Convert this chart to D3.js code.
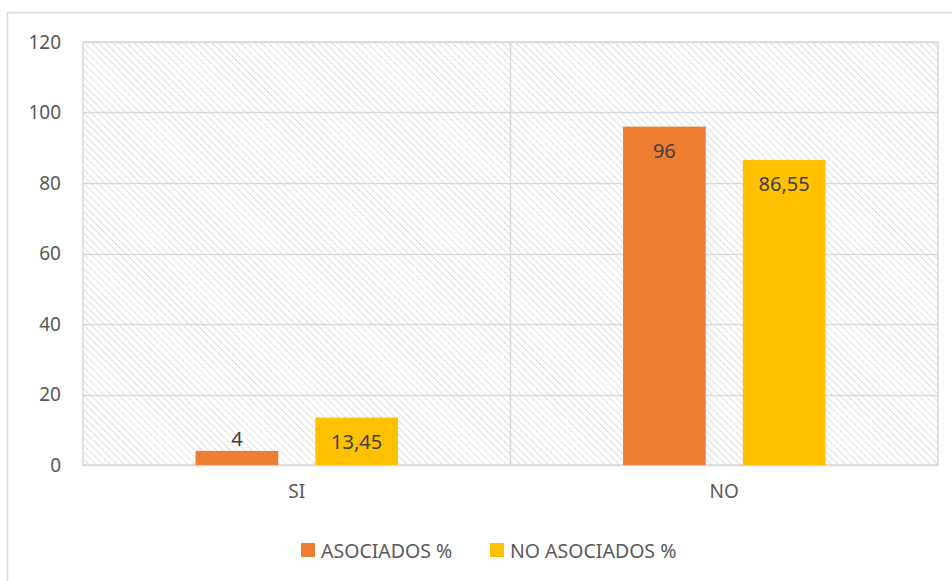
<!DOCTYPE html>
<html>
<head>
<meta charset="utf-8">
<script src="https://cdn.jsdelivr.net/npm/d3@7"></script>
<style>
  body { margin: 0; background: #fff; }
  text { font-family: "Noto Sans", "Open Sans", sans-serif; }
</style>
</head>
<body>
<div id="chart"></div>
<script>
// chart data
const categories = ["SI", "NO"];
const seriesNames = ["ASOCIADOS %", "NO ASOCIADOS %"];
const asociados = [4, 96];
const noAsociados = [13.45, 86.55];
const yTicks = [0, 20, 40, 60, 80, 100, 120];

const colors = ["#ED7D31", "#FFC000"];

const W = 952, H = 581;
const margin = {top: 42, right: 14, bottom: 116, left: 83};
const width = W - margin.left - margin.right;
const height = H - margin.top - margin.bottom;

const svg = d3.select("#chart").append("svg")
    .attr("width", W)
    .attr("height", H);

// hatch pattern for plot background (downward diagonal)
const defs = svg.append("defs");
defs.append("pattern")
    .attr("id", "hatch")
    .attr("patternUnits", "userSpaceOnUse")
    .attr("width", 5)
    .attr("height", 5)
    .attr("patternTransform", "rotate(-45)")
    .append("line")
    .attr("x1", 0).attr("y1", 0)
    .attr("x2", 0).attr("y2", 5)
    .attr("stroke", "#d4d4d4")
    .attr("stroke-width", 1.8)
    .attr("stroke-dasharray", "2,0.6");

// outer chart border
svg.append("rect")
    .attr("x", 7.5).attr("y", 12.5)
    .attr("width", W).attr("height", H)
    .attr("fill", "none")
    .attr("stroke", "#d9d9d9")
    .attr("stroke-width", 1.5);

const g = svg.append("g")
    .attr("transform", `translate(${margin.left},${margin.top})`);

const x0 = d3.scaleBand()
    .domain(categories)
    .range([0, width]);

const x1 = d3.scaleBand()
    .domain(seriesNames)
    .range([0, x0.bandwidth()])
    .paddingInner(0.31)
    .paddingOuter(0.94);

const y = d3.scaleLinear()
    .domain([0, 120])
    .range([height, 0]);

// plot background
g.append("rect")
    .attr("width", width)
    .attr("height", height)
    .attr("fill", "url(#hatch)")
    .attr("stroke", "#d9d9d9")
    .attr("stroke-width", 1.5);

// horizontal gridlines
g.append("g")
    .selectAll("line")
    .data(yTicks)
    .enter().append("line")
    .attr("x1", 0).attr("x2", width)
    .attr("y1", d => Math.round(y(d)) + 0.5)
    .attr("y2", d => Math.round(y(d)) + 0.5)
    .attr("stroke", "#d9d9d9")
    .attr("stroke-width", 1.5);

// category separators
g.append("g")
    .selectAll("line")
    .data(categories.slice(1))
    .enter().append("line")
    .attr("x1", d => x0(d)).attr("x2", d => x0(d))
    .attr("y1", 0).attr("y2", height)
    .attr("stroke", "#d9d9d9")
    .attr("stroke-width", 1.5);

// y axis labels
const yAxis = d3.axisLeft(y).tickValues(yTicks).tickSize(0).tickPadding(22);
g.append("g")
    .call(yAxis)
    .call(a => a.select(".domain").remove())
    .selectAll("text")
    .attr("fill", "#595959")
    .style("font-size", "19px");

// x axis labels
const xAxis = d3.axisBottom(x0).tickSize(0).tickPadding(20);
g.append("g")
    .attr("transform", `translate(0,${height})`)
    .call(xAxis)
    .call(a => a.select(".domain").remove())
    .selectAll("text")
    .attr("fill", "#595959")
    .style("font-size", "19px");

// bars
const rows = categories.map((c, i) => ({
    cat: c,
    values: [asociados[i], noAsociados[i]]
}));

const fmt = v => String(v).replace(".", ",");

const groups = g.selectAll(".cat")
    .data(rows)
    .enter().append("g")
    .attr("class", "cat")
    .attr("transform", d => `translate(${x0(d.cat)},0)`);

const bar = groups.selectAll(".bar")
    .data(d => d.values.map((v, j) => ({name: seriesNames[j], value: v, j: j})))
    .enter();

bar.append("rect")
    .attr("class", "bar")
    .attr("x", d => x1(d.name))
    .attr("y", d => y(d.value))
    .attr("width", x1.bandwidth())
    .attr("height", d => height - y(d.value))
    .attr("fill", d => colors[d.j]);

// data labels: inside end if the bar is tall enough, else above
bar.append("text")
    .attr("x", d => x1(d.name) + x1.bandwidth() / 2)
    .attr("y", d => (height - y(d.value)) > 35 ? y(d.value) + 31 : y(d.value) - 5)
    .attr("text-anchor", "middle")
    .attr("fill", "#404040")
    .style("font-size", "20px")
    .text(d => fmt(d.value));

// legend
const legend = svg.append("g")
    .attr("transform", "translate(301,543)");

const legendX = [0, 189];
seriesNames.forEach((s, i) => {
    const lg = legend.append("g").attr("transform", `translate(${legendX[i]},0)`);
    lg.append("rect")
        .attr("width", 14).attr("height", 14)
        .attr("fill", colors[i]);
    lg.append("text")
        .attr("x", 20).attr("y", 15)
        .attr("fill", "#595959")
        .style("font-size", "19.5px")
        .text(s);
});
</script>
</body>
</html>
